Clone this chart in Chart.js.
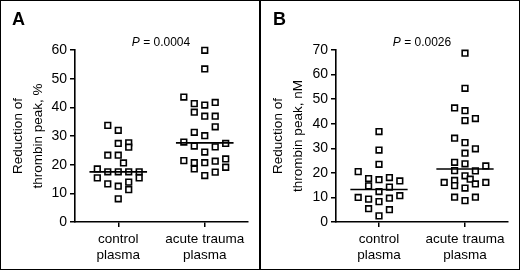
<!DOCTYPE html>
<html>
<head>
<meta charset="utf-8">
<script src="https://cdn.jsdelivr.net/npm/chart.js@4/dist/chart.umd.min.js"></script>
<style>
  body { margin: 0; background: #fff; }
  #fig { position: relative; width: 520px; height: 273px; font-family: "Liberation Sans", Arial, sans-serif; }
  #fig canvas { position: absolute; top: 0; }
  .frame { position: absolute; top: 0; height: 270px; box-sizing: border-box; border: 1.5px solid #000; pointer-events: none; }
  .letter { position: absolute; top: 10px; font-size: 18px; font-weight: bold; line-height: 18px; }
  .pval { position: absolute; top: 36px; width: 100px; text-align: center; font-size: 12px; line-height: 12px; }
</style>
</head>
<body>
<div id="fig">
  <canvas id="chartA" width="260" height="273" style="left:0"></canvas>
  <canvas id="chartB" width="260" height="273" style="left:260px"></canvas>
  <div class="frame" style="left:0;width:260px"></div>
  <div class="frame" style="left:260px;width:260px"></div>
  <div class="letter" style="left:12px">A</div>
  <div class="letter" style="left:273px">B</div>
  <div class="pval" style="left:111px"><i>P</i> = 0.0004</div>
  <div class="pval" style="left:372px"><i>P</i> = 0.0026</div>
</div>
<script>
const categories = [["control", "plasma"], ["acute trauma", "plasma"]];

// panel A: reduction of thrombin peak, %
const controlA = [33.7, 32.0, 27.4, 27.6, 26.1, 23.3, 23.3, 20.6, 18.5, 17.5, 17.5, 17.5, 17.5, 15.4, 15.4, 13.3, 13.9, 12.5, 11.3, 8.1];
const controlACols = [-1, 0, 0, 1, 1, -1, 0, 0.5, -2, -1, 0, 1, 2, -2, 2, -1, 1, 0, 1, 0];
const traumaA = [59.9, 53.4, 43.6, 41.3, 40.8, 41.7, 38.3, 36.9, 36.9, 33.2, 31.3, 30.1, 27.9, 26.5, 24.4, 26.2, 27.4, 21.4, 20.7, 20.7, 21.2, 22.0, 18.5, 17.4, 19.1, 16.2];
const traumaACols = [0, 0, -2, -1, 0, 1, -1, 0, 1, 1, -1, 0, -2, -1, 0, 1, 2, -2, -1, 0, 1, 2, -1, 1, 2, 0];
const mediansA = [17.5, 27.6];
const ticksA = [0, 10, 20, 30, 40, 50, 60];

// panel B: reduction of thrombin peak, nM
const controlB = [36.8, 29.3, 23.5, 20.5, 17.7, 17.2, 18.1, 16.7, 14.7, 14.2, 12.4, 10.0, 9.3, 8.3, 9.7, 10.7, 5.4, 5.0, 2.5];
const controlBCols = [0, 0, 0, -2, -1, 0, 1, 2, -1, 1, 0, -2, -1, 0, 1, 2, -1, 1, 0];
const traumaB = [68.7, 54.4, 46.4, 45.3, 42.1, 41.3, 34.1, 32.3, 29.8, 28.0, 24.3, 23.7, 22.8, 20.9, 20.8, 18.8, 17.4, 16.1, 16.9, 14.8, 13.8, 15.5, 16.1, 10.1, 8.7, 10.1];
const traumaBCols = [0, 0, -1, 0, 1, 0, -1, 0, 1, 0, -1, 0, 2, -1, 1, 0, 0.5, -2, -1, -1, 0, 1, 2, -1, 0, 1];
const mediansB = [13.2, 21.6];
const ticksB = [0, 10, 20, 30, 40, 50, 60, 70];

const COL_STEP = 0.121;
const HALF_LINE = 0.333;
const FONT = "'Liberation Sans', Arial, sans-serif";

function points(values, cols, catIndex) {
  return values.map((v, i) => ({ x: catIndex + 0.5 + cols[i] * COL_STEP, y: v }));
}

function medianLine(m, catIndex) {
  return {
    type: "line",
    data: [{ x: catIndex + 0.5 - HALF_LINE, y: m }, { x: catIndex + 0.5 + HALF_LINE, y: m }],
    borderColor: "#000",
    borderWidth: 1.6,
    pointRadius: 0,
    showLine: true,
    clip: false,
  };
}

function dots(data) {
  return {
    data: data,
    pointStyle: "rect",
    pointRadius: 4,
    pointBorderWidth: 1.6,
    pointBorderColor: "#000",
    pointBackgroundColor: "#fff",
    borderColor: "#000",
    backgroundColor: "#fff",
    clip: false,
  };
}

function makeChart(id, ctrl, ctrlCols, trauma, traumaCols, medians, yTicks, unit, leftPad) {
  return new Chart(document.getElementById(id), {
    type: "scatter",
    data: {
      datasets: [
        medianLine(medians[0], 0),
        medianLine(medians[1], 1),
        dots(points(ctrl, ctrlCols, 0)),
        dots(points(trauma, traumaCols, 1)),
      ],
    },
    options: {
      responsive: false,
      animation: false,
      events: [],
      layout: { padding: { left: 0, right: 12, top: 50, bottom: 0 } },
      plugins: { legend: { display: false }, tooltip: { enabled: false } },
      scales: {
        x: {
          type: "linear",
          min: 0,
          max: 2,
          afterBuildTicks: (scale) => { scale.ticks = [{ value: 0.5 }, { value: 1.5 }]; },
          afterFit: (scale) => { scale.height = 51; },
          ticks: {
            autoSkip: false,
            maxRotation: 0,
            padding: 5,
            color: "#000",
            font: { family: FONT, size: 13.5, lineHeight: 1.15 },
            callback: (v) => categories[Math.round(v - 0.5)],
          },
          grid: { drawOnChartArea: false, tickLength: 5, color: "#000", lineWidth: 1.5 },
          border: { display: true, color: "#000", width: 1.6 },
        },
        y: {
          min: yTicks[0],
          max: yTicks[yTicks.length - 1],
          afterBuildTicks: (scale) => { scale.ticks = yTicks.map((v) => ({ value: v })); },
          afterFit: (scale) => { scale.width = leftPad; },
          ticks: { padding: 3, color: "#000", font: { family: FONT, size: 14 } },
          grid: { drawOnChartArea: false, tickLength: 5, color: "#000", lineWidth: 1.5 },
          border: { display: true, color: "#000", width: 1.6 },
          title: {
            display: true,
            text: ["Reduction of", "thrombin peak, " + unit],
            color: "#000",
            font: { family: FONT, size: 13.5, lineHeight: 1.48 },
            padding: { top: 8, bottom: 0 },
          },
        },
      },
    },
  });
}

makeChart("chartA", controlA, controlACols, traumaA, traumaACols, mediansA, ticksA, "%", 75);
makeChart("chartB", controlB, controlBCols, traumaB, traumaBCols, mediansB, ticksB, "nM", 76);
</script>
</body>
</html>
